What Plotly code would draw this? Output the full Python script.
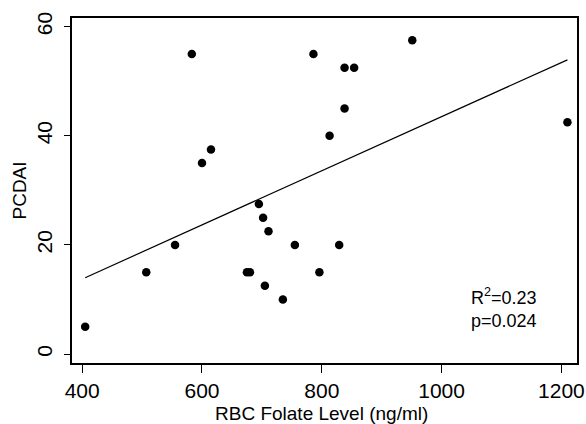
import numpy as np
import plotly.graph_objects as go

# RBC folate (ng/ml) vs PCDAI
folate = [405, 507, 555, 583, 600, 615, 675, 680, 695, 702, 705, 711, 735,
          755, 786, 796, 813, 829, 838, 838, 854, 951, 1210]
pcdai = [5, 15, 20, 55, 35, 37.5, 15, 15, 27.5, 25, 12.5, 22.5, 10,
         20, 55, 15, 40, 20, 52.5, 45, 52.5, 57.5, 42.5]

x_ticks = [400, 600, 800, 1000, 1200]
y_ticks = [0, 20, 40, 60]

W, H = 586, 424
ML, MR, MT, MB = 72, 9, 18, 61
plot_w = W - ML - MR
plot_h = H - MT - MB

slope, intercept = np.polyfit(folate, pcdai, 1)
fit_x = np.array([min(folate), max(folate)])
fit_y = intercept + slope * fit_x

fig = go.Figure()
fig.add_trace(go.Scatter(x=fit_x, y=fit_y, mode="lines",
                         line=dict(color="black", width=1.2), showlegend=False))
fig.add_trace(go.Scatter(x=folate, y=pcdai, mode="markers",
                         marker=dict(color="black", size=8.5), showlegend=False))

fig.add_annotation(x=1045, y=8.4, xref="x", yref="y", xanchor="left", yanchor="middle",
                   text="R<sup>2</sup>=0.23<br>p=0.024", showarrow=False, align="left",
                   font=dict(size=18, color="black"))

# axis titles as annotations so the plot box stays put (pixel -> paper)
fig.add_annotation(x=(321 - ML) / plot_w, y=(H - MB - 413) / plot_h,
                   xref="paper", yref="paper", xanchor="center", yanchor="middle",
                   text="RBC Folate Level (ng/ml)", showarrow=False,
                   font=dict(size=19, color="black"))
fig.add_annotation(x=(19 - ML) / plot_w, y=0.5, xref="paper", yref="paper",
                   xanchor="center", yanchor="middle", text="PCDAI", textangle=-90,
                   showarrow=False, font=dict(size=19, color="black"))

axis_common = dict(showgrid=False, zeroline=False, showline=True, linecolor="black",
                   linewidth=1.5, mirror=True, ticks="outside", tickcolor="black",
                   tickwidth=1.2, tickfont=dict(size=21, color="black"), automargin=False)

fig.update_xaxes(range=[383, 1226], tickvals=x_ticks, ticklen=8, **axis_common)
fig.update_yaxes(range=[-1.65, 61.6], tickvals=y_ticks, ticklen=6, tickangle=-90,
                 ticklabelstandoff=4, **axis_common)

fig.update_layout(width=W, height=H, margin=dict(l=ML, r=MR, t=MT, b=MB),
                  plot_bgcolor="white", paper_bgcolor="white",
                  font=dict(family="Liberation Sans, Arial, sans-serif"))

fig.write_html("out.html", config={"displayModeBar": False},
               post_script="document.body.style.margin='0';")
